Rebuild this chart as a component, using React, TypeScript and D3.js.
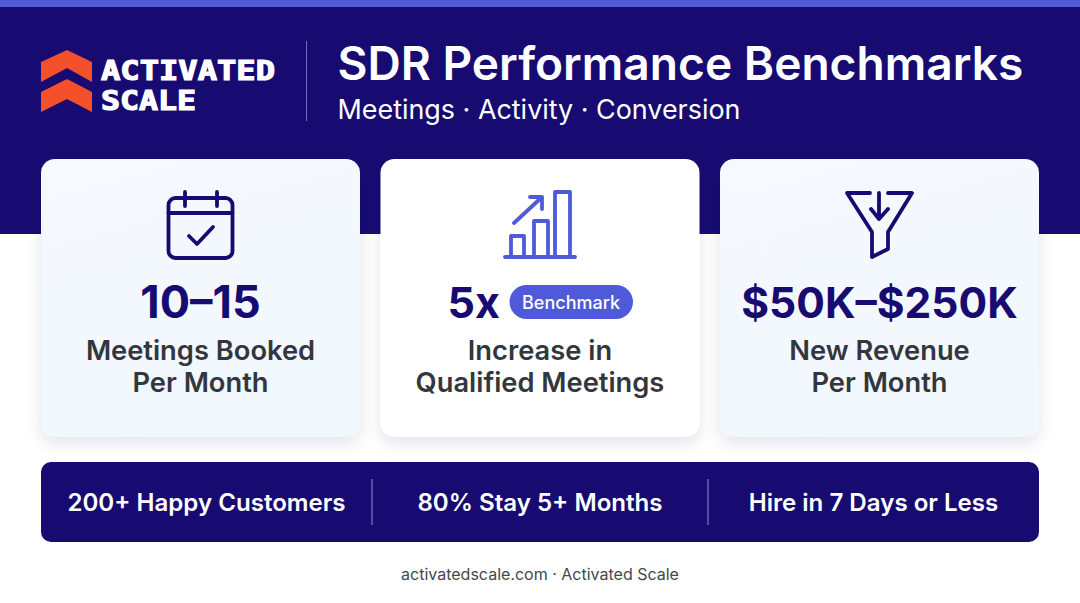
import { useEffect, useRef } from "react";
import * as d3 from "d3";

const width = 1080;
const height = 603;

const title = "SDR Performance Benchmarks";
const subtitle = "Meetings · Activity · Conversion";
const logoLines = ["ACTIVATED", "SCALE"];
const cardKeys = ["meetings", "increase", "revenue"];
const cardValues = ["10–15", "5x", "$50K–$250K"];
const cardValueSizes = [45, 43, 42.5];
const cardLabelsTop = ["Meetings Booked", "Increase in", "New Revenue"];
const cardLabelsBottom = ["Per Month", "Qualified Meetings", "Per Month"];
const badgeLabel = "Benchmark";
const stats = ["200+ Happy Customers", "80% Stay 5+ Months", "Hire in 7 Days or Less"];
const footer = "activatedscale.com · Activated Scale";

const navy = "#170b72";
const indigo = "#4f5ad8";
const orange = "#f4502c";
const labelColor = "#33373d";
const font = "Inter, sans-serif";

const chevron = "M41 62L67 50L92 62V82L67 68L41 82Z";
const chevronLow = "M41 92L67 79L92 92V112L67 99L41 112Z";

export default function App() {
  const ref = useRef<SVGSVGElement>(null);

  useEffect(() => {
    document.body.style.margin = "0";
    const svg = d3.select(ref.current);
    svg.selectAll("*").remove();

    const defs = svg.append("defs");
    const grad = defs
      .append("linearGradient")
      .attr("id", "cardBg")
      .attr("x1", 0)
      .attr("y1", 0)
      .attr("x2", 0.3)
      .attr("y2", 1);
    grad.append("stop").attr("offset", "0%").attr("stop-color", "#f6f9ff");
    grad.append("stop").attr("offset", "100%").attr("stop-color", "#f1f8fd");
    const shadow = defs
      .append("filter")
      .attr("id", "cardShadow")
      .attr("x", "-15%")
      .attr("y", "-15%")
      .attr("width", "130%")
      .attr("height", "130%");
    shadow
      .append("feDropShadow")
      .attr("dx", 0)
      .attr("dy", 6)
      .attr("stdDeviation", 8)
      .attr("flood-color", "#1b1b50")
      .attr("flood-opacity", 0.11);

    svg.append("rect").attr("width", width).attr("height", height).attr("fill", "#fff");
    svg.append("rect").attr("width", width).attr("height", 234).attr("fill", navy);
    svg.append("rect").attr("width", width).attr("height", 7).attr("fill", indigo);

    // logo
    svg.append("path").attr("d", chevron).attr("fill", orange);
    svg.append("path").attr("d", chevronLow).attr("fill", orange);
    svg
      .selectAll("text.logo")
      .data(logoLines)
      .join("text")
      .attr("class", "logo")
      .attr("x", 101)
      .attr("y", (_, i) => 80 + i * 30)
      .attr("font-family", "'DejaVu Sans Mono', monospace")
      .attr("font-weight", 700)
      .attr("font-size", 27)
      .attr("fill", "#fff")
      .attr("stroke", "#fff")
      .attr("stroke-width", 1.2)
      .attr("textLength", (_, i) => (i === 0 ? 174 : 95))
      .attr("lengthAdjust", "spacingAndGlyphs")
      .text((d) => d);

    svg
      .append("line")
      .attr("x1", 306.5)
      .attr("x2", 306.5)
      .attr("y1", 41)
      .attr("y2", 121)
      .attr("stroke", "#6f6fc0")
      .attr("stroke-width", 1);

    svg
      .append("text")
      .attr("x", 337.5)
      .attr("y", 80)
      .attr("font-family", font)
      .attr("font-weight", 600)
      .attr("font-size", 46.1)
      .attr("fill", "#fff")
      .text(title);
    svg
      .append("text")
      .attr("x", 337.5)
      .attr("y", 118.5)
      .attr("font-family", font)
      .attr("font-size", 26.9)
      .attr("fill", "#fff")
      .text(subtitle);

    // cards
    const x = d3.scaleBand().domain(cardKeys).range([41, 1039]).paddingInner(0.0604);
    const cards = svg
      .selectAll("g.card")
      .data(cardKeys)
      .join("g")
      .attr("class", "card")
      .attr("transform", (d) => `translate(${x(d)},159)`);
    cards
      .append("rect")
      .attr("width", x.bandwidth())
      .attr("height", 278)
      .attr("rx", 14)
      .attr("fill", (d) => (d === "increase" ? "#fff" : "url(#cardBg)"))
      .attr("filter", "url(#cardShadow)");

    const cx = x.bandwidth() / 2;
    cards
      .filter((d) => d !== "increase")
      .append("text")
      .attr("x", cx)
      .attr("y", 159)
      .attr("text-anchor", "middle")
      .attr("font-family", font)
      .attr("font-weight", 700)
      .attr("font-size", (d) => cardValueSizes[cardKeys.indexOf(d)])
      .attr("fill", navy)
      .text((d) => cardValues[cardKeys.indexOf(d)]);
    cards
      .append("text")
      .attr("x", cx)
      .attr("y", 201)
      .attr("text-anchor", "middle")
      .attr("font-family", font)
      .attr("font-weight", 600)
      .attr("font-size", 27.3)
      .attr("fill", labelColor)
      .text((_, i) => cardLabelsTop[i]);
    cards
      .append("text")
      .attr("x", cx)
      .attr("y", 233)
      .attr("text-anchor", "middle")
      .attr("font-family", font)
      .attr("font-weight", 600)
      .attr("font-size", 27.3)
      .attr("fill", labelColor)
      .text((_, i) => cardLabelsBottom[i]);

    // middle card value + badge
    const mid = cards.filter((d) => d === "increase");
    mid
      .append("text")
      .attr("x", 67)
      .attr("y", 159)
      .attr("font-family", font)
      .attr("font-weight", 700)
      .attr("font-size", cardValueSizes[1])
      .attr("fill", navy)
      .text(cardValues[1]);
    mid
      .append("rect")
      .attr("x", 129)
      .attr("y", 126)
      .attr("width", 123.5)
      .attr("height", 34)
      .attr("rx", 17)
      .attr("fill", indigo);
    mid
      .append("text")
      .attr("x", 190.5)
      .attr("y", 149.5)
      .attr("text-anchor", "middle")
      .attr("font-family", font)
      .attr("font-weight", 500)
      .attr("font-size", 18)
      .attr("fill", "#fff")
      .text(badgeLabel);

    // icons, drawn in page coordinates
    const icon = (color: string) =>
      svg
        .append("g")
        .attr("fill", "none")
        .attr("stroke", color)
        .attr("stroke-width", 3.8)
        .attr("stroke-linecap", "round")
        .attr("stroke-linejoin", "round");

    const cal = icon(navy);
    cal.append("rect").attr("x", 168.5).attr("y", 198).attr("width", 64).attr("height", 60).attr("rx", 7);
    cal.append("path").attr("d", "M168.5 213H232.5M185 192V206M217 192V206M189 236L197 244L213 227");

    const growth = icon(indigo);
    growth
      .append("path")
      .attr("d", "M505 257H575M511 257V236H524V257M534 257V221H548V257M555 257V192H570V257M514 223L542 197M530 197H542V209");

    const funnel = icon(navy);
    funnel
      .append("path")
      .attr("d", "M870 193H847L872 232V257L888 249V232L912 193H888M879 193V219M871 209L879 219L888 209");

    // stats bar
    svg
      .append("rect")
      .attr("x", 41)
      .attr("y", 462)
      .attr("width", 998)
      .attr("height", 80)
      .attr("rx", 10)
      .attr("fill", navy);
    const sx = d3.scalePoint().domain(stats).range([206.5, 873.5]);
    svg
      .selectAll("text.stat")
      .data(stats)
      .join("text")
      .attr("class", "stat")
      .attr("x", (d) => sx(d) ?? 0)
      .attr("y", 511)
      .attr("text-anchor", "middle")
      .attr("font-family", font)
      .attr("font-weight", 600)
      .attr("font-size", 24.1)
      .attr("fill", "#fff")
      .text((d) => d);
    svg
      .selectAll("line.sep")
      .data([-168, 168])
      .join("line")
      .attr("class", "sep")
      .attr("x1", (d) => 540 + d)
      .attr("x2", (d) => 540 + d)
      .attr("y1", 479)
      .attr("y2", 525)
      .attr("stroke", "#8f8fd0")
      .attr("stroke-width", 1);

    svg
      .append("text")
      .attr("x", 540)
      .attr("y", 580)
      .attr("text-anchor", "middle")
      .attr("font-family", font)
      .attr("font-size", 16)
      .attr("fill", "#44474d")
      .text(footer);
  }, []);

  return <svg ref={ref} width={width} height={height} style={{ display: "block" }} />;
}
